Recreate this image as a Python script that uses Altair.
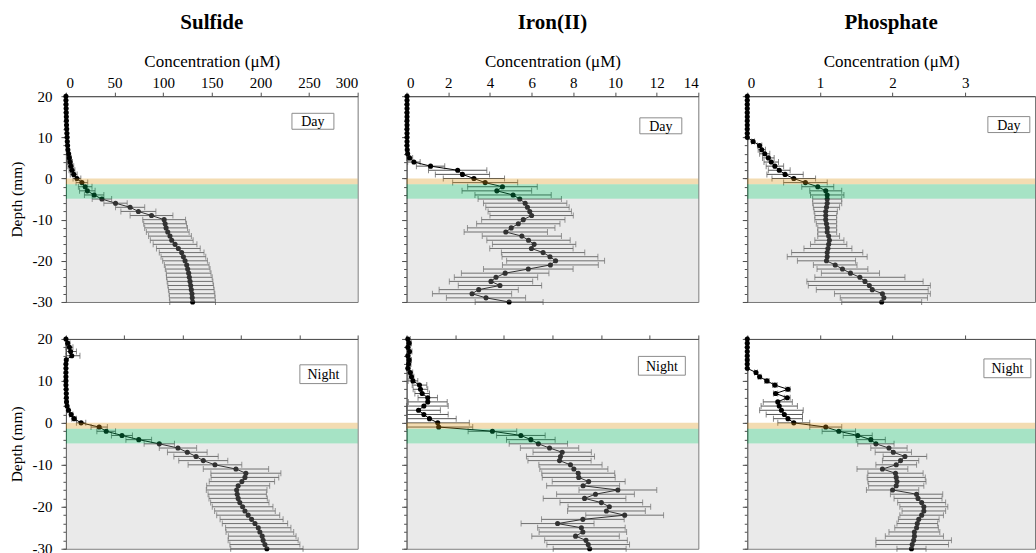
import altair as alt
import pandas as pd

# Depth below the sediment surface (mm), 1 mm steps
depth = list(range(20, -31, -1))

# ---- Sulfide (uM) ----
sulfide_day = [0, 0, 0.1, 0.2, 0.3, 0.4, 0.5, 0.6, 0.8, 1.0, 1.2, 1.4, 1.7, 2.0, 2.8, 3.5,
               4.2, 5.0, 6.2, 8.0, 11.3, 16.4, 19.8, 22, 29, 37, 51, 66, 74.5, 88, 101,
               102, 103, 104.7, 107, 108.8, 112.2, 115.6, 119, 120.8, 122.5, 124.2, 125.2,
               126.2, 126.9, 127.6, 128.3, 128.9, 129.6, 129.9, 130.3]
sulfide_day_sd = [0.3] * 13 + [0.5, 1, 2, 2.5, 3, 3, 3.5, 4, 6, 7, 8, 10, 10, 12, 15, 18, 22,
                  22, 22, 22, 22, 22, 22, 22.5, 22.5, 23, 23, 23, 23, 23, 23, 23.5, 23.5,
                  23.5, 23.5, 23.5, 23.5, 23.5, 23.5]
sulfide_night = [0, 1.5, 3, 4, 5, 0.3, 0, 0, 0, 0, 0, 0, 0.2, 0.3, 0.4, 0.5, 1, 2.2, 4.5, 7,
                 13, 28.5, 34.5, 48, 62.4, 80, 96, 104, 111.5, 117.7, 127.7, 145.7, 154.2,
                 153.4, 150.8, 147.6, 146.3, 146.8, 147.6, 149, 151.4, 153.4, 156.2, 159.1,
                 162, 164.8, 166.2, 168.2, 169, 170.5, 172.2]
sulfide_night_sd = [0.5, 2, 3, 5, 7] + [0.3] * 11 + [0.5, 1, 1.5, 2, 4, 7, 8, 9, 11, 13, 16,
                    17, 19, 21, 23, 28, 30, 29, 28, 27, 26, 25, 25, 25, 26, 26, 27, 27, 28,
                    28, 29, 29, 30, 30, 31]

# ---- Iron(II) (uM) ----
iron_day = [0.02] * 13 + [0.03, 0.05, 0.14, 0.35, 1.15, 2.45, 2.68, 3.23, 3.77, 4.6, 4.33,
            5.11, 5.43, 5.69, 5.8, 5.91, 6.0, 5.6, 5.36, 5.02, 4.76, 5.53, 5.85, 6.12,
            5.99, 6.55, 6.88, 7.15, 6.9, 5.84, 4.73, 4.29, 4.05, 4.48, 3.46, 3.14, 3.81,
            4.92]
iron_day_sd = [0.05] * 15 + [0.15, 0.3, 0.68, 1.4, 1.3, 1.47, 1.56, 1.67, 1.67, 1.83, 2.0,
               2.0, 2.0, 2.0, 2.0, 2.0, 2.0, 2.1, 2.0, 1.9, 2.0, 2.0, 2.0, 2.0, 2.3, 2.35,
               2.3, 2.15, 2.1, 2.0, 2.0, 2.0, 1.9, 1.9, 1.9, 1.63]
iron_night = [0.05, 0.1, 0.05, 0.12, 0.05, 0.1, 0.08, 0.05, 0.15, 0.2, 0.26, 0.53, 0.57,
              0.64, 0.87, 0.87, 0.71, 0.49, 0.71, 0.94, 1.28, 1.32, 3.53, 4.70, 5.11, 5.42,
              5.88, 6.40, 6.33, 6.29, 6.74, 6.88, 7.06, 7.08, 7.49, 7.26, 8.69, 7.77, 7.32,
              8.01, 8.34, 8.22, 8.97, 7.25, 6.21, 7.19, 7.25, 6.95, 7.38, 7.47, 7.53]
iron_night_sd = [0.1] * 10 + [0.2, 0.3, 0.3, 0.3, 0.4, 0.8, 1.0, 0.9, 1.0, 1.1, 1.3, 1.4,
                 1.0, 1.0, 1.0, 1.2, 1.2, 1.2, 1.4, 1.3, 1.3, 1.4, 1.5, 1.5, 1.5, 1.5, 1.6,
                 1.6, 1.7, 1.7, 1.7, 1.6, 1.6, 1.7, 1.5, 1.8, 1.8, 1.8, 1.7, 1.7, 1.5]

# ---- Phosphate (uM) ----
phosphate_day = [0] * 11 + [0.08, 0.17, 0.2, 0.24, 0.29, 0.33, 0.38, 0.44, 0.52, 0.64, 0.8,
                 0.97, 1.08, 1.1, 1.1, 1.1, 1.09, 1.08, 1.08, 1.08, 1.09, 1.1, 1.1, 1.12,
                 1.13, 1.12, 1.11, 1.1, 1.1, 1.09, 1.21, 1.31, 1.42, 1.55, 1.62, 1.68, 1.72,
                 1.86, 1.88, 1.85]
phosphate_day_sd = [0.01] * 11 + [0.02, 0.03, 0.05, 0.07, 0.08, 0.1, 0.12, 0.15, 0.25, 0.3,
                    0.3, 0.22, 0.22, 0.23, 0.2, 0.2, 0.18, 0.16, 0.15, 0.15, 0.14, 0.13,
                    0.13, 0.15, 0.2, 0.25, 0.33, 0.49, 0.55, 0.4, 0.3, 0.35, 0.4, 0.62, 0.8,
                    0.84, 0.77, 0.66, 0.6, 0.55]
phosphate_night = [0] * 8 + [0.12, 0.17, 0.27, 0.38, 0.56, 0.39, 0.55, 0.42, 0.44, 0.47,
                   0.51, 0.56, 0.64, 1.08, 1.26, 1.52, 1.70, 1.77, 1.95, 2.01, 2.17, 2.11,
                   2.05, 1.86, 2.04, 2.05, 2.06, 2.05, 2.0, 2.33, 2.35, 2.40, 2.43, 2.43,
                   2.40, 2.36, 2.34, 2.33, 2.30, 2.30, 2.29, 2.27, 2.26]
phosphate_night_sd = [0.01] * 8 + [0.02, 0.02, 0.03, 0.03, 0.03, 0.03, 0.04, 0.2, 0.25,
                      0.3, 0.25, 0.2, 0.22, 0.22, 0.23, 0.2, 0.2, 0.25, 0.25, 0.25, 0.3,
                      0.25, 0.28, 0.35, 0.38, 0.4, 0.4, 0.38, 0.36, 0.36, 0.33, 0.33, 0.33,
                      0.3, 0.3, 0.28, 0.28, 0.3, 0.35, 0.4, 0.52, 0.5, 0.2]

# Sediment zones: (top, bottom, colour, alpha)
zone_top = [0, -1.4, -4.9]
zone_bottom = [-1.4, -4.9, -30]
zone_fill = ["#dc9614", "#00af5a", "#b4b4b4"]
zone_alpha = [0.33, 0.35, 0.28]

SERIF = "Liberation Serif"
AXIS_GREY = "#505050"

DAY_BOX = "M-1,-0.38H1V0.38H-1Z"
NIGHT_BOX = "M-1,-0.40H1V0.40H-1Z"


def panel(conc, sd, xmax, ticks, tag, tag_x, tag_y, left, top, name, width, height):
    # error bars never run below zero concentration
    df = pd.DataFrame({
        "depth": depth,
        "conc": conc,
        "lo": [max(0.0, c - s) for c, s in zip(conc, sd)],
        "hi": [c + s for c, s in zip(conc, sd)],
    })
    xs = alt.Scale(domain=[0, xmax], nice=False, zero=False)
    ys = alt.Scale(domain=[-30, 20], nice=False)
    if top:
        x_axis = alt.Axis(orient="top", values=ticks, title="Concentration (μM)",
                          tickSize=4, labelPadding=2, titlePadding=5, grid=False,
                          labelFontSize=15, titleFontSize=17)
    else:
        x_axis = alt.Axis(orient="top", values=ticks, labels=False, title=None,
                          tickSize=4, grid=False)
    if left:
        y_axis = alt.Axis(values=[20, 10, 0, -10, -20, -30], title="Depth (mm)",
                          tickSize=5, labelPadding=9, titlePadding=7, grid=False,
                          labelExpr="'' + datum.value", labelFontSize=15,
                          titleFontSize=15.5)
    else:
        y_axis = alt.Axis(values=[20, 10, 0, -10, -20, -30], labels=False, title=None,
                          tickSize=5, grid=False)

    X = lambda f: alt.X(f, type="quantitative", scale=xs, axis=x_axis)
    Y = alt.Y("depth:Q", scale=ys, axis=y_axis)

    base = alt.Chart(df)
    bars = base.mark_errorbar(ticks=True, size=6, thickness=1, color="#555555").encode(
        x=X("lo"), x2="hi", y=Y)
    line = base.mark_line(color="black", strokeWidth=1).encode(
        x=X("conc"), y=Y, order=alt.Order("depth:Q", sort="descending"))
    dots = base.mark_circle(size=26, color="black", opacity=1).encode(x=X("conc"), y=Y)

    zones = pd.DataFrame({"top": zone_top, "bottom": zone_bottom,
                          "fill": zone_fill, "alpha": zone_alpha})
    bands = alt.Chart(zones).mark_rect().encode(
        x=alt.datum(0, scale=xs, axis=x_axis), x2=alt.datum(xmax),
        y=alt.Y("top:Q", scale=ys, axis=y_axis), y2="bottom:Q",
        color=alt.Color("fill:N", scale=None),
        opacity=alt.Opacity("alpha:Q", scale=None))

    tag_df = pd.DataFrame({"x": [tag_x], "y": [tag_y], "tag": [tag]})
    box = alt.Chart(tag_df).mark_point(
        shape=DAY_BOX if tag == "Day" else NIGHT_BOX, filled=False,
        stroke="#8c8c8c", strokeWidth=1, opacity=1,
        size=42 ** 2 if tag == "Day" else 47 ** 2).encode(
        x=alt.X("x:Q", scale=xs, axis=x_axis), y=alt.Y("y:Q", scale=ys, axis=y_axis))
    text = alt.Chart(tag_df).mark_text(font=SERIF, fontSize=14, color="black",
                                       baseline="middle", dy=1).encode(
        x=alt.X("x:Q", scale=xs, axis=x_axis), y=alt.Y("y:Q", scale=ys, axis=y_axis),
        text="tag:N")

    profile = alt.layer(bars, line, dots, bands, box, text)

    # 2 mm minor ticks on the depth axis
    minor = alt.Chart(df).mark_point(opacity=0).encode(
        x=X("conc"),
        y=alt.Y("depth:Q", scale=alt.Scale(domain=[-30, 20], nice=False),
                axis=alt.Axis(orient="left", values=list(range(-30, 21, 2)),
                              labels=False, domain=False, tickSize=3, title=None,
                              grid=False)))

    layered = alt.layer(profile, minor).resolve_scale(y="independent").properties(
        width=width, height=height)
    if name:
        layered = layered.properties(title=alt.TitleParams(
            name, font=SERIF, fontSize=21, fontWeight="bold", offset=19))
    return layered


sulfide_day_ticks = [0, 50, 100, 150, 200, 250, 300]
sulfide_night_ticks = [0, 50, 100, 150, 200, 250]
iron_day_ticks = [0, 2, 4, 6, 8, 10, 12, 14]
iron_night_ticks = [0, 2, 4, 6, 8, 10, 12]
phosphate_ticks = [0, 1, 2, 3]

charts = [
    panel(sulfide_day, sulfide_day_sd, 300, sulfide_day_ticks, "Day", 254, 13.9,
          True, True, "Sulfide", 292, 206),
    panel(iron_day, iron_day_sd, 14, iron_day_ticks, "Day", 12.2, 12.8,
          False, True, "Iron(II)", 292, 206),
    panel(phosphate_day, phosphate_day_sd, 3.96, phosphate_ticks, "Day", 3.6, 13.1,
          False, True, "Phosphate", 288, 206),
    panel(sulfide_night, sulfide_night_sd, 250, sulfide_night_ticks, "Night", 220.6, 11.6,
          True, False, None, 292, 210),
    panel(iron_night, iron_night_sd, 12, iron_night_ticks, "Night", 10.5, 13.6,
          False, False, None, 292, 210),
    panel(phosphate_night, phosphate_night_sd, 3.96, phosphate_ticks, "Night", 3.58, 13.0,
          False, False, None, 288, 210),
]

chart = alt.concat(*charts, columns=3, spacing={"row": 37, "column": 49},
                   bounds="flush").properties(
    padding={"left": 9, "top": 11, "right": 0, "bottom": 0}
).configure_view(stroke="#777777", strokeWidth=1).configure_axis(
    domainColor=AXIS_GREY, tickColor=AXIS_GREY, labelFont=SERIF, titleFont=SERIF,
    labelColor="black", titleColor="black", titleFontWeight="normal"
).configure_title(anchor="middle", color="black")

chart.save("out.html", embed_options={"renderer": "svg", "actions": False})
